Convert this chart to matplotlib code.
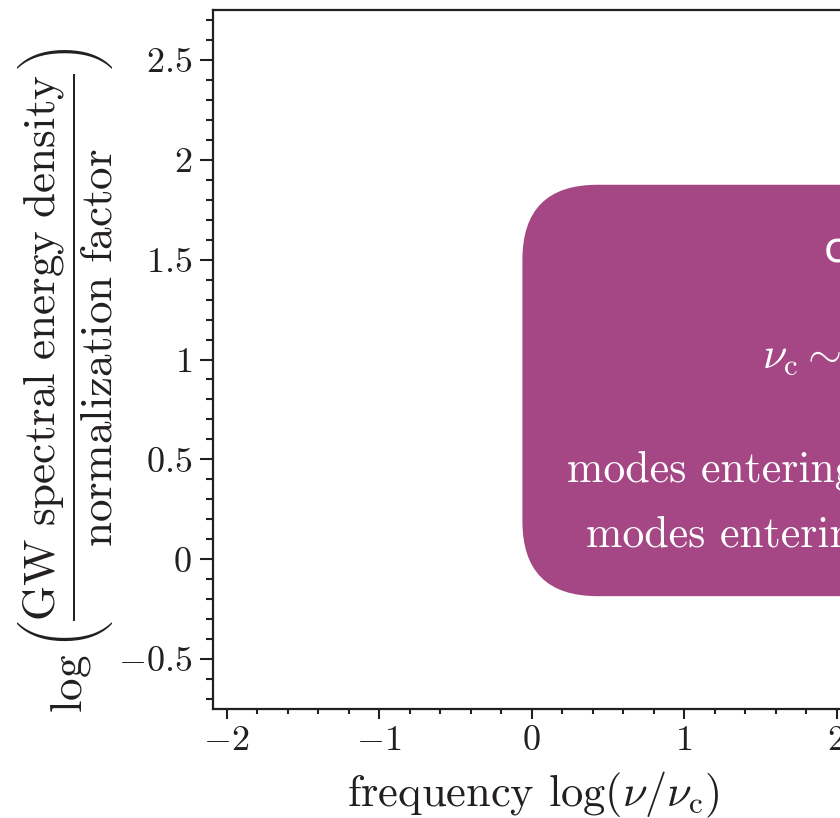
import numpy as np
import matplotlib
matplotlib.use("Agg")
import matplotlib.pyplot as plt
from matplotlib.patches import FancyBboxPatch
from matplotlib.ticker import MultipleLocator, FixedLocator, FuncFormatter

plt.rcParams.update({
    "font.family": "serif",
    "font.serif": ["cmr10"],
    "mathtext.fontset": "cm",
    "axes.formatter.use_mathtext": True,
    "axes.unicode_minus": True,
})

# axis ranges and ticks
x_range = (-2.087, 4.0)
y_range = (-0.75, 2.75)
x_major = [-2, -1, 0, 1, 2, 3, 4]
y_major = [-0.5, 0, 0.5, 1, 1.5, 2, 2.5]

# highlighted regime box (data units)
box_left, box_right = -0.06, 3.6
box_bottom, box_top = -0.185, 1.875
box_color = "#A44784"

# box text lines: (x, y, text, style)
box_lines = [
    (1.92, 1.49, "crossover frequency", "sans"),
    (1.51, 0.96, r"$\nu_{\mathrm{c}} \sim a_{\mathrm{c}} H_{\mathrm{c}}$", "math"),
    (0.235, 0.39, "modes entering before the transition", "serif"),
    (0.36, 0.065, "modes entering after the transition", "serif"),
]

ink = "#231f20"

fig = plt.figure(figsize=(8.4, 8.18), dpi=100)
W, H = 840, 818
px_x0, px_y_top, px_y_bot = 213.3, 10.0, 709.0
px_per_x = 152.5
px_right = 531.5 + x_range[1] * px_per_x
ax = fig.add_axes([px_x0 / W, (H - px_y_bot) / H,
                   (px_right - px_x0) / W, (px_y_bot - px_y_top) / H])
ax.set_xlim(*x_range)
ax.set_ylim(*y_range)

for s in ["left", "bottom", "top", "right"]:
    ax.spines[s].set_linewidth(1.6)
    ax.spines[s].set_color(ink)

ax.xaxis.set_major_locator(FixedLocator(x_major))
ax.xaxis.set_minor_locator(MultipleLocator(0.2))
ax.yaxis.set_major_locator(FixedLocator(y_major))
ax.yaxis.set_minor_locator(MultipleLocator(0.1))
fmt = FuncFormatter(lambda v, p: r"$%s$" % ("%g" % v))
ax.xaxis.set_major_formatter(fmt)
ax.yaxis.set_major_formatter(fmt)

ax.tick_params(axis="both", which="both", direction="out", color=ink,
               width=1.5, labelcolor=ink, labelsize=26,
               top=False, right=False)
ax.tick_params(axis="x", which="major", length=7.5, pad=4)
ax.tick_params(axis="x", which="minor", length=3.8)
ax.tick_params(axis="y", which="major", length=9.5, pad=6)
ax.tick_params(axis="y", which="minor", length=5)

# rounded box with circular corners despite unequal axis scales
px_per_y = (px_y_bot - px_y_top) / (y_range[1] - y_range[0])
radius_px = 75
box = FancyBboxPatch((box_left, box_bottom), box_right - box_left,
                     box_top - box_bottom,
                     boxstyle="round,pad=0,rounding_size=%f" % (radius_px / px_per_x),
                     mutation_aspect=px_per_x / px_per_y,
                     facecolor=box_color, edgecolor="none", zorder=2)
ax.add_patch(box)

for x, y, txt, style in box_lines:
    kw = dict(color="white", fontsize=31.5, ha="left", va="baseline", zorder=3)
    if style == "sans":
        kw["family"] = "DejaVu Sans"
        kw["fontsize"] = 30
    ax.text(x, y, txt, **kw)

fig.text(533 / W, (H - 806) / H, r"frequency $\log(\nu/\nu_{\mathrm{c}})$",
         ha="center", va="baseline", fontsize=32, color=ink)

ylabel = (r"$\log\left(\dfrac{\mathrm{GW\ spectral\ energy\ density}}"
          r"{\mathrm{normalization\ factor}}\right)$")
fig.text(66 / W, (H - 380) / H, ylabel, rotation=90, ha="center",
         va="center", fontsize=32.5, color=ink)

fig.savefig("out.png", dpi=100)
